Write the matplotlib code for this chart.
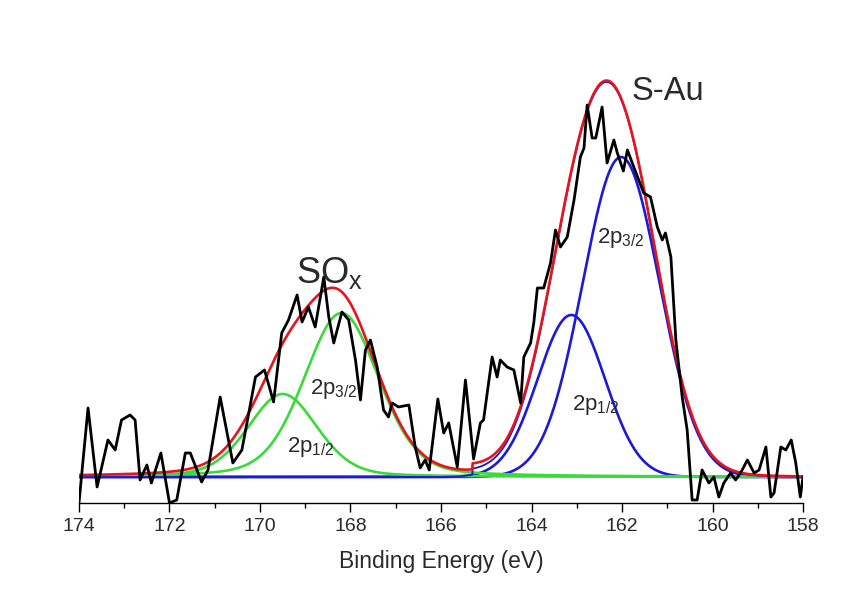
import numpy as np
import matplotlib
matplotlib.use('Agg')
import matplotlib.pyplot as plt

plt.rcParams['font.family'] = ['Liberation Sans', 'DejaVu Sans']
plt.rcParams['mathtext.fontset'] = 'custom'
plt.rcParams['mathtext.rm'] = 'Liberation Sans'
plt.rcParams['mathtext.it'] = 'Liberation Sans'

# measured S 2p spectrum: binding energy (eV) and counts above baseline (a.u.)
energy = [174.0, 173.8, 173.6, 173.36, 173.2, 173.06, 172.87, 172.76, 172.65, 172.5,
          172.4, 172.19, 172.0, 171.84, 171.65, 171.54, 171.29, 171.15, 170.88, 170.6,
          170.4, 170.1, 169.9, 169.7, 169.52, 169.37, 169.18, 169.07, 168.93, 168.78,
          168.59, 168.48, 168.37, 168.19, 168.04, 167.89, 167.78, 167.67, 167.56, 167.41,
          167.27, 167.16, 167.08, 166.94, 166.71, 166.57, 166.46, 166.35, 166.26, 166.07,
          165.94, 165.83, 165.64, 165.46, 165.28, 165.13, 165.06, 164.87, 164.76, 164.69,
          164.54, 164.39, 164.24, 164.17, 164.02, 163.95, 163.87, 163.73, 163.58, 163.47,
          163.36, 163.21, 163.06, 162.92, 162.84, 162.77, 162.66, 162.58, 162.44, 162.33,
          162.18, 162.11, 161.97, 161.88, 161.74, 161.52, 161.37, 161.22, 161.11, 161.04,
          160.92, 160.81, 160.67, 160.56, 160.45, 160.34, 160.23, 160.08, 159.97, 159.86,
          159.75, 159.6, 159.49, 159.38, 159.23, 159.08, 158.97, 158.82, 158.71, 158.64,
          158.49, 158.38, 158.26, 158.16, 158.06, 158.0]
counts = [-26, 69, -10, 37, 27, 57, 62, 57, -3, 12,
          -6, 24, -26, -23, 24, 24, -5, 7, 80, 14,
          27, 100, 107, 75, 144, 157, 182, 155, 170, 150,
          200, 160, 134, 165, 157, 117, 77, 127, 137, 110,
          67, 60, 74, 70, 72, 30, 9, 17, 7, 78,
          44, 54, 10, 97, 18, 54, 57, 120, 100, 117,
          110, 107, 74, 120, 134, 154, 189, 189, 214, 247,
          230, 240, 277, 320, 329, 372, 339, 339, 370, 314,
          337, 325, 306, 327, 310, 284, 280, 250, 237, 244,
          220, 137, 80, 47, -23, -23, 7, -6, 0, -20,
          -6, 4, -3, 4, 17, 4, 7, 30, -20, -16,
          30, 27, 37, 14, -20, 0]

# SOx doublet (2p3/2, 2p1/2)
sox_center = [168.2, 169.5]
sox_height = [164, 83]
sox_fwhm = [1.95, 1.8]
sox_lorentz = 0.25

# S-Au doublet (2p3/2, 2p1/2)
sau_center = [162.02, 163.12]
sau_height = [320, 162]
sau_fwhm = [2.0, 1.75]
sau_lorentz = 0.0

# background step under the S-Au fit window
sau_bg_energy = [158.0, 165.3]
sau_bg_level = [0.0, 6.0]

sox_labels = ['2p$_{\\mathregular{3/2}}$', '2p$_{\\mathregular{1/2}}$']
sau_labels = ['2p$_{\\mathregular{3/2}}$', '2p$_{\\mathregular{1/2}}$']


def gl_peak(x, c, h, w, m):
    g = np.exp(-4 * np.log(2) * (x - c) ** 2 / w ** 2)
    l = 1.0 / (1 + 4 * (x - c) ** 2 / w ** 2)
    return h * ((1 - m) * g + m * l)


x = np.linspace(174, 158, 1601)
sox = [gl_peak(x, c, h, w, sox_lorentz) for c, h, w in zip(sox_center, sox_height, sox_fwhm)]
sau = [gl_peak(x, c, h, w, sau_lorentz) for c, h, w in zip(sau_center, sau_height, sau_fwhm)]
bg = np.where(x <= sau_bg_energy[1], np.interp(x, sau_bg_energy, sau_bg_level), 0.0)
sau_env = sau[0] + sau[1] + bg
total = sau_env + sox[0] + sox[1]

fig = plt.figure(figsize=(8.53, 5.93), dpi=100)
ax = fig.add_axes([0.0926, 0.1518, 0.8488, 0.747])

red = '#e8141c'
blue = '#1a1ad8'
green = '#3ada3a'
txt = '#2a2a2a'

for comp in sau:
    ax.plot(x, comp, color=blue, lw=1.9)
for comp in sox:
    ax.plot(x, comp, color=green, lw=1.9)
ax.plot(x, sau_env, color=blue, lw=1.3)
ax.plot(x, total, color=red, lw=1.9)
ax.plot(energy, counts, color='black', lw=2.0)

ax.set_xlim(174, 158)
ax.set_ylim(-26, 417)
ax.set_xticks(np.arange(174, 157, -2))
ax.set_xticks(np.arange(173, 158, -2), minor=True)
ax.tick_params(axis='x', which='major', length=6.5, width=1, labelsize=14, pad=4,
               labelcolor=txt)
ax.tick_params(axis='x', which='minor', length=3.5, width=1)
ax.set_yticks([])
for s in ['top', 'right', 'left']:
    ax.spines[s].set_visible(False)
ax.spines['bottom'].set_linewidth(1)
ax.set_xlabel('Binding Energy (eV)', fontsize=16.5, labelpad=11, color=txt)

ax.text(169.2, 194, 'SO$_{\\mathregular{x}}$', fontsize=26, color=txt)
ax.text(161.8, 377, 'S-Au', fontsize=23.5, color=txt)
ax.text(168.89, 83, sox_labels[0], fontsize=16, color=txt)
ax.text(169.41, 25, sox_labels[1], fontsize=16, color=txt)
ax.text(162.55, 234, sau_labels[0], fontsize=16, color=txt)
ax.text(163.1, 67, sau_labels[1], fontsize=16, color=txt)

fig.savefig('out.png', dpi=100)
